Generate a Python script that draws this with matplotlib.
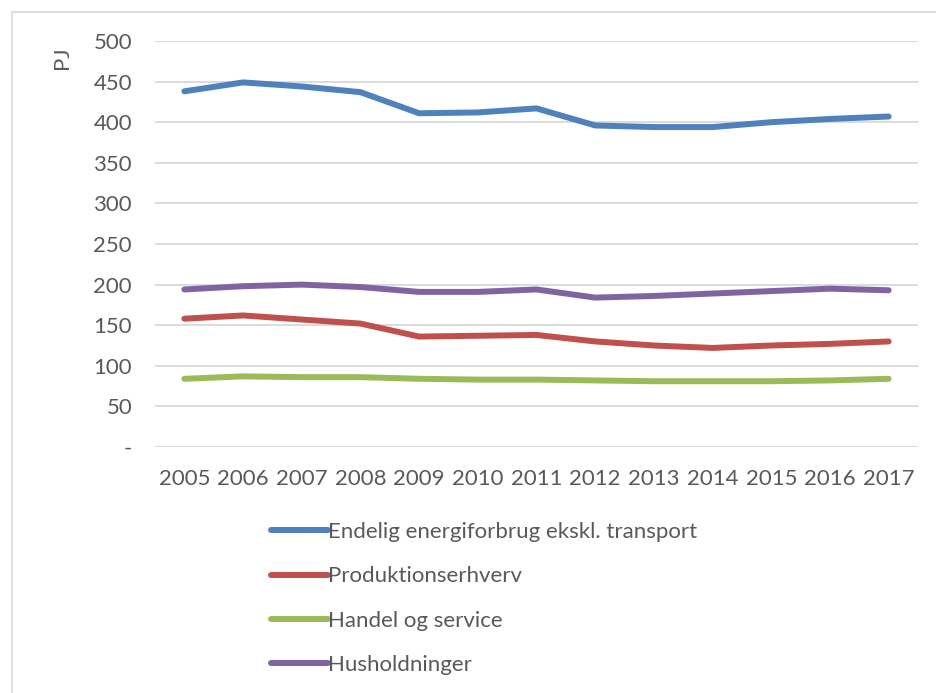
import matplotlib
matplotlib.use("Agg")
import matplotlib.pyplot as plt
from matplotlib.patches import Rectangle

years = ["2005", "2006", "2007", "2008", "2009", "2010", "2011",
         "2012", "2013", "2014", "2015", "2016", "2017"]
endelig = [438, 449, 444, 437, 411, 412, 417, 396, 394, 394, 400, 404, 407]
produktion = [158, 162, 157, 152, 136, 137, 138, 130, 125, 122, 125, 127, 130]
handel = [84, 87, 86, 86, 84, 83, 83, 82, 81, 81, 81, 82, 84]
husholdninger = [194, 198, 200, 197, 191, 191, 194, 184, 186, 189, 192, 195, 193]

labels = ["Endelig energiforbrug ekskl. transport", "Produktionserhverv",
          "Handel og service", "Husholdninger"]
colors = ["#4F81BD", "#C0504D", "#9BBB59", "#8064A2"]
yticks = [0, 50, 100, 150, 200, 250, 300, 350, 400, 450, 500]
ytick_labels = ["-"] + [str(v) for v in yticks[1:]]

plt.rcParams['font.family'] = ['Lato', 'DejaVu Sans']
W, H = 936, 693
fig = plt.figure(figsize=(W / 100, H / 100), dpi=100)
ax = fig.add_axes([155 / W, (H - 447) / H, (918 - 155) / W, (447 - 41) / H])

x = list(range(len(years)))
for series, lab, col in zip([endelig, produktion, handel, husholdninger], labels, colors):
    ax.plot(x, series, color=col, lw=4.3, label=lab, solid_capstyle='round',
            solid_joinstyle='round')

ax.set_xlim(-0.5, len(years) - 0.5)
ax.set_ylim(0, 500)
ax.set_yticks(yticks)
ax.set_yticklabels(ytick_labels)
ax.set_xticks(x)
ax.set_xticklabels(years)
ax.grid(axis='y', color='#D9D9D9', lw=1.3)
ax.set_axisbelow(True)
for s in ax.spines.values():
    s.set_visible(False)
ax.tick_params(axis='both', length=0, labelsize=16, colors='#595959')
ax.tick_params(axis='y', pad=16.5)
ax.tick_params(axis='x', pad=16)

fig.text(62 / W, 1 - 58 / H, "PJ", rotation=90, ha='center', va='center',
         fontsize=16, color='#595959')

# chart border
fig.patches.append(Rectangle((12 / W, -0.1), 1.2, 1 - 12 / H + 0.1,
                             transform=fig.transFigure, fill=False,
                             edgecolor='#D9D9D9', lw=1.2))

leg = fig.legend(loc='upper left', bbox_to_anchor=(262 / W, 1 - 513 / H),
                 frameon=False, fontsize=16, handlelength=2.55,
                 handletextpad=0.02, labelspacing=1.1, borderaxespad=0)
for t in leg.get_texts():
    t.set_color('#595959')

fig.savefig("out.png", dpi=100)
